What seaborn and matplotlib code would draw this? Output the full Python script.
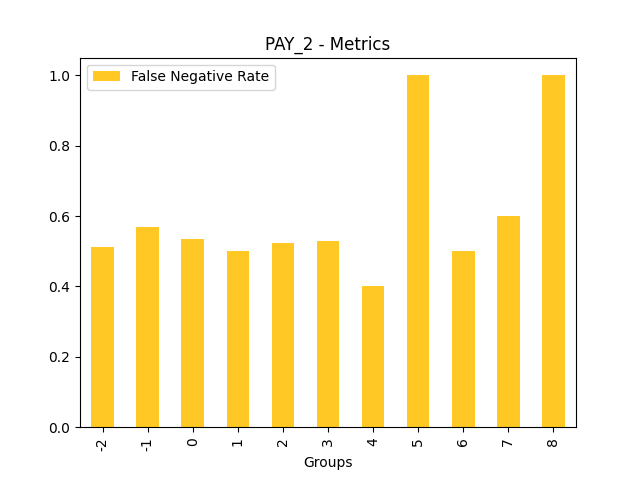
import matplotlib
matplotlib.use("Agg")
import matplotlib.pyplot as plt
import seaborn as sns
import pandas as pd

groups = ["-2", "-1", "0", "1", "2", "3", "4", "5", "6", "7", "8"]
fnr = [0.511, 0.569, 0.534, 0.500, 0.523, 0.528, 0.400, 1.000, 0.500, 0.600, 1.000]

df = pd.DataFrame({"Groups": groups, "False Negative Rate": fnr})

fig, ax = plt.subplots(figsize=(6.4, 4.8), dpi=100)
sns.barplot(data=df, x="Groups", y="False Negative Rate", color="#ffc824",
            saturation=1, width=0.5, label="False Negative Rate", ax=ax)
ax.set_ylabel("")
ax.set_xlabel("Groups")
ax.set_ylim(0, 1.05)
ax.set_xlim(-0.5, len(groups) - 0.5)
ax.tick_params(axis="x", rotation=90)
ax.set_title("PAY_2 - Metrics")
ax.legend(loc="upper left")
plt.savefig("out.png")
